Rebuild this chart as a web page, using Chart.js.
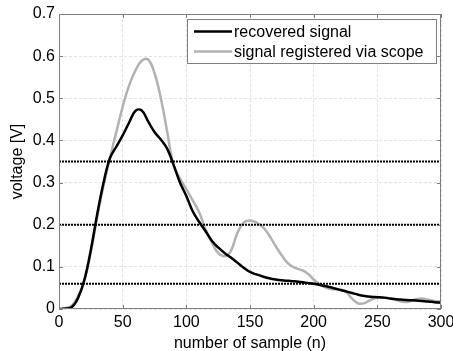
<!DOCTYPE html>
<html>
<head>
<meta charset="utf-8">
<script src="https://cdn.jsdelivr.net/npm/chart.js@4.4.1/dist/chart.umd.min.js"></script>
<style>
  html, body { margin: 0; padding: 0; background: #fff; }
  #wrap { width: 453px; height: 351px; position: relative; }
</style>
</head>
<body>
<div id="wrap"><canvas id="sigChart"></canvas></div>
<script>
// sample index n (every 5 samples)
const samples = [
  0, 5, 10, 15, 20, 25, 30, 35, 40, 45, 50, 55, 60, 65, 70, 75, 80, 85, 90, 95,
  100, 105, 110, 115, 120, 125, 130, 135, 140, 145, 150, 155, 160, 165, 170, 175, 180, 185, 190, 195,
  200, 205, 210, 215, 220, 225, 230, 235, 240, 245, 250, 255, 260, 265, 270, 275, 280, 285, 290, 295, 300
];
// recovered signal [V]
const recovered = [
  0, 0.001, 0.004, 0.026, 0.07, 0.14, 0.225, 0.30, 0.358, 0.385, 0.412, 0.442, 0.47, 0.471, 0.445, 0.42, 0.402, 0.38, 0.342, 0.30,
  0.268, 0.232, 0.207, 0.185, 0.162, 0.146, 0.133, 0.122, 0.11, 0.098, 0.088, 0.082, 0.077, 0.073, 0.07, 0.068, 0.067, 0.066, 0.064, 0.062,
  0.06, 0.057, 0.054, 0.05, 0.046, 0.042, 0.038, 0.034, 0.031, 0.029, 0.028, 0.027, 0.025, 0.023, 0.022, 0.021, 0.02, 0.019, 0.018, 0.016, 0.015
];
// signal registered via scope [V]
const scope = [
  0, 0.002, 0.008, 0.03, 0.068, 0.136, 0.218, 0.293, 0.358, 0.42, 0.48, 0.53, 0.566, 0.589, 0.592, 0.56, 0.50, 0.42, 0.34, 0.31,
  0.284, 0.258, 0.23, 0.19, 0.158, 0.133, 0.125, 0.138, 0.18, 0.205, 0.21, 0.205, 0.195, 0.175, 0.15, 0.127, 0.108, 0.098, 0.093, 0.085,
  0.07, 0.058, 0.05, 0.047, 0.046, 0.042, 0.025, 0.013, 0.014, 0.022, 0.027, 0.027, 0.025, 0.021, 0.017, 0.018, 0.023, 0.025, 0.022, 0.019, 0.018
];
// dotted threshold levels [V]
const thresholds = [0.35, 0.2, 0.06];
const xTicks = [0, 50, 100, 150, 200, 250, 300];
const yTicks = [0, 0.1, 0.2, 0.3, 0.4, 0.5, 0.6, 0.7];

const FONT = { family: "'Liberation Sans', Arial, sans-serif", size: 16 };
const FRAME_COLOR = '#808080';
const GRID_COLOR = '#e3e3e3';

const toPoints = ys => samples.map((n, i) => ({ x: n, y: ys[i] }));

const datasets = [
  {
    label: 'recovered signal',
    data: toPoints(recovered),
    borderColor: '#000000',
    borderWidth: 2.5,
    tension: 0.4,
    pointRadius: 0,
    order: 1
  },
  {
    label: 'signal registered via scope',
    data: toPoints(scope),
    borderColor: '#b2b2b2',
    borderWidth: 2.5,
    tension: 0.4,
    pointRadius: 0,
    order: 2
  }
];
thresholds.forEach(v => {
  datasets.push({
    label: '',
    isThreshold: true,
    data: [{ x: xTicks[0], y: v }, { x: xTicks[xTicks.length - 1], y: v }],
    borderColor: '#000000',
    borderWidth: 2,
    borderDash: [2, 1],
    pointRadius: 0,
    order: 0
  });
});

// axes box with inward tick marks
const framePlugin = {
  id: 'frame',
  afterDatasetsDraw(chart) {
    const { ctx, chartArea: a, scales: { x, y } } = chart;
    const len = 4;
    ctx.save();
    ctx.strokeStyle = FRAME_COLOR;
    ctx.lineWidth = 1;
    ctx.setLineDash([]);
    ctx.strokeRect(a.left + 0.5, a.top + 0.5, a.right - a.left - 1, a.bottom - a.top - 1);
    ctx.beginPath();
    xTicks.forEach(t => {
      const px = Math.round(x.getPixelForValue(t)) + 0.5;
      ctx.moveTo(px, a.bottom); ctx.lineTo(px, a.bottom - len);
      ctx.moveTo(px, a.top); ctx.lineTo(px, a.top + len);
    });
    yTicks.forEach(t => {
      const py = Math.round(y.getPixelForValue(t)) + 0.5;
      ctx.moveTo(a.left, py); ctx.lineTo(a.left + len, py);
      ctx.moveTo(a.right, py); ctx.lineTo(a.right - len, py);
    });
    ctx.stroke();
    ctx.restore();
  }
};

// boxed legend in the upper right corner of the plot
const boxLegend = {
  id: 'boxLegend',
  afterDraw(chart) {
    const { ctx, chartArea: a } = chart;
    const items = chart.data.datasets.filter(d => !d.isThreshold);
    const boxW = 249, rowH = 20;
    const left = a.right - 5 - boxW, top = a.top + 5;
    const boxH = rowH * items.length + 4;
    ctx.save();
    ctx.fillStyle = '#fff';
    ctx.fillRect(left, top, boxW, boxH);
    ctx.strokeStyle = FRAME_COLOR;
    ctx.lineWidth = 1;
    ctx.strokeRect(left + 0.5, top + 0.5, boxW, boxH);
    ctx.font = `${FONT.size}px ${FONT.family}`;
    ctx.textBaseline = 'middle';
    items.forEach((d, i) => {
      const cy = top + 12.5 + i * rowH;
      ctx.strokeStyle = d.borderColor;
      ctx.lineWidth = d.borderWidth;
      ctx.beginPath();
      ctx.moveTo(left + 7, cy);
      ctx.lineTo(left + 45, cy);
      ctx.stroke();
      ctx.fillStyle = '#000';
      ctx.fillText(d.label, left + 47, cy + 1);
    });
    ctx.restore();
  }
};

new Chart(document.getElementById('sigChart'), {
  type: 'line',
  data: { datasets },
  options: {
    responsive: true,
    maintainAspectRatio: false,
    animation: false,
    layout: { padding: { top: 14, right: 12, left: 0, bottom: 0 } },
    plugins: {
      legend: { display: false },
      tooltip: { enabled: false }
    },
    scales: {
      x: {
        type: 'linear',
        min: 0,
        max: 300,
        afterFit: s => { s.height = 42; s.paddingLeft = 0; s.paddingRight = 0; },
        afterBuildTicks: s => { s.ticks = xTicks.map(v => ({ value: v })); },
        ticks: { color: '#000', font: FONT, padding: 4, maxRotation: 0 },
        grid: { color: GRID_COLOR, drawTicks: false, lineWidth: 1 },
        border: { display: false, dash: [3, 2] },
        title: { display: true, text: 'number of sample (n)', color: '#000', font: FONT, padding: { top: 0, bottom: -2 } }
      },
      y: {
        min: 0,
        max: 0.7,
        afterFit: s => { s.width = 59; s.paddingTop = 0; s.paddingBottom = 0; },
        afterBuildTicks: s => { s.ticks = yTicks.map(v => ({ value: v })); },
        ticks: { color: '#000', font: FONT, padding: 4, callback: v => String(+v.toFixed(1)) },
        grid: { color: GRID_COLOR, drawTicks: false, lineWidth: 1 },
        border: { display: false, dash: [3, 2] },
        title: { display: true, text: 'voltage [V]', color: '#000', font: FONT, padding: { top: 8, bottom: 0 } }
      }
    }
  },
  plugins: [framePlugin, boxLegend]
});
</script>
</body>
</html>
